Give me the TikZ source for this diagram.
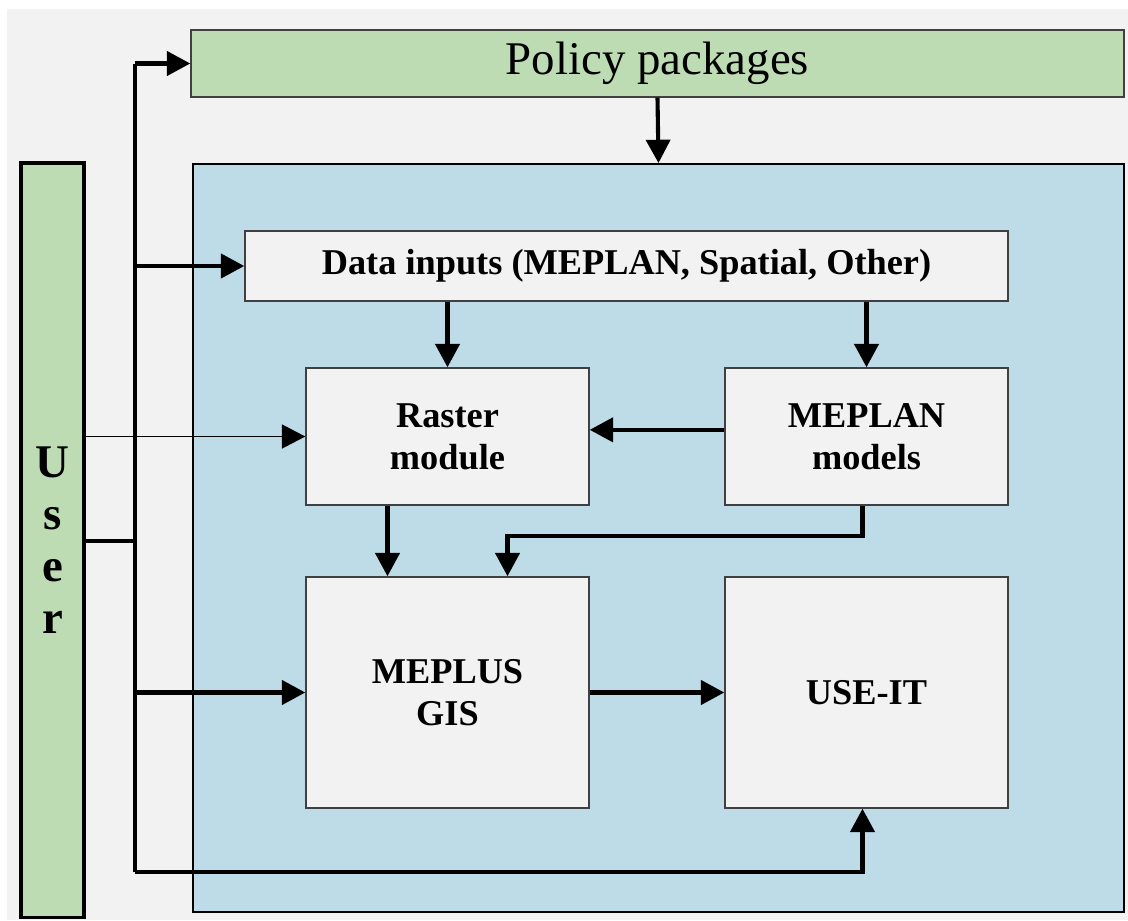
\documentclass[tikz,border=0pt]{standalone}
\usepackage{fontspec}
\setmainfont{Liberation Serif}
\usetikzlibrary{arrows.meta}

\definecolor{paper}{HTML}{F2F2F2}
\definecolor{leaf}{HTML}{BDDCB4}
\definecolor{water}{HTML}{BDDCE8}
\definecolor{edge}{HTML}{404040}

\tikzset{
	box/.style={draw=edge, line width=1.2pt, fill=paper, inner sep=0pt, align=center,
		font=\fontsize{31}{36}\selectfont\bfseries},
	link/.style={line width=3.5pt},
	arr/.style={link, -{Triangle[length=0.7cm, width=0.72cm]}},
	thinarr/.style={line width=1.1pt, -{Triangle[length=0.7cm, width=0.72cm]}}
}

\begin{document}
\begin{tikzpicture}[x=0.03cm, y=-0.03cm]
		\useasboundingbox (0,0) rectangle (1128,920);
		\fill[white] (0,0) rectangle (1128,920);
		\fill[paper] (7,9) rectangle (1128,920);

		% outer frames
		\node[draw=edge, line width=1.2pt, fill=leaf, minimum width=27.99cm, minimum height=2.01cm,
			font=\fontsize{40}{44}\selectfont] (policy) at (657.5,63.5) {Policy packages};
		\node[draw, line width=1.6pt, fill=water, minimum width=27.93cm, minimum height=22.44cm] (frame) at (658.5,538) {};
		\node[draw, line width=2.6pt, fill=leaf, minimum width=1.89cm, minimum height=22.62cm, align=center,
			font=\fontsize{40}{44.5}\selectfont\bfseries] (user) at (52.5,540) {U\\s\\e\\r};

		% modules
		\node[box, minimum width=22.89cm, minimum height=2.1cm] (data) at (626.5,266) {Data inputs (MEPLAN, Spatial, Other)};
		\node[box, minimum width=8.49cm, minimum height=4.11cm] (raster) at (447.5,436.5) {Raster\\module};
		\node[box, minimum width=8.49cm, minimum height=4.11cm] (meplan) at (866.5,436.5) {MEPLAN\\models};
		\node[box, minimum width=8.49cm, minimum height=6.93cm] (meplus) at (447.5,692.5) {MEPLUS\\GIS};
		\node[box, minimum width=8.49cm, minimum height=6.93cm] (useit) at (866.5,692.5) {USE-IT};

		% user bus
		\coordinate (bus) at (135,0);
		\coordinate (bustop) at (bus |- policy.west);
		\coordinate (busfoot) at (135,872);
		\coordinate (join) at (135,541);
		\draw[link] (bustop) -- (busfoot);
		\draw[link] (user.east |- join) -- (join);
		\draw[arr] (bustop) -- (policy.west);
		\draw[arr] (bus |- data.west) -- (data.west);
		\draw[arr] (bus |- meplus.west) -- (meplus.west);
		\draw[arr] (busfoot) -| ([xshift=-0.12cm]useit.south);
		\draw[thinarr] (user.east |- raster.west) -- (raster.west);

		% flows between modules
		\draw[arr] (policy.south) -- (frame.north);
		\draw[arr] (raster.north |- data.south) -- (raster.north);
		\draw[arr] (meplan.north |- data.south) -- (meplan.north);
		\draw[arr] ([yshift=0.2cm]meplan.west) -- ([yshift=0.2cm]raster.east);
		\draw[arr] ([xshift=-1.8cm]raster.south) -- ([xshift=-1.8cm]meplus.north);
		\draw[arr] ([xshift=-0.12cm]meplan.south) -- ++(0,30) -| ([xshift=1.8cm]meplus.north);
		\draw[arr] (meplus.east) -- (useit.west);
	\end{tikzpicture}
\end{document}
